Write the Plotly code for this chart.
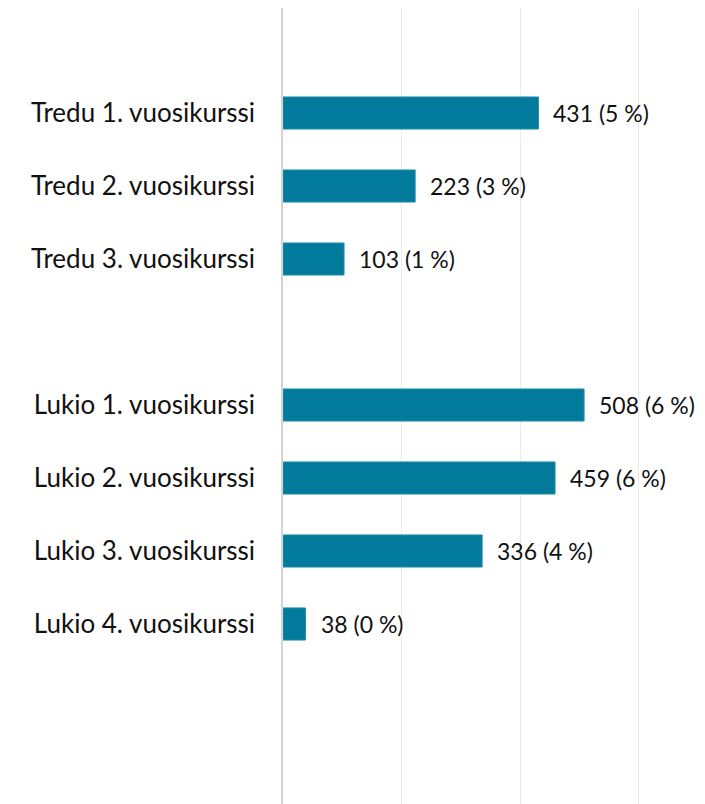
import plotly.graph_objects as go

categories = ["Tredu 1. vuosikurssi", "Tredu 2. vuosikurssi", "Tredu 3. vuosikurssi", " ",
              "Lukio 1. vuosikurssi", "Lukio 2. vuosikurssi", "Lukio 3. vuosikurssi", "Lukio 4. vuosikurssi"]
values = [431, 223, 103, None, 508, 459, 336, 38]
percents = [5, 3, 1, None, 6, 6, 4, 0]
x_ticks = [0, 200, 400, 600]

FONT = "Lato"
BAR = "#017a9b"

fig = go.Figure()
fig.add_trace(go.Bar(
    y=categories, x=values, orientation="h",
    marker=dict(color=BAR, line=dict(color="#2a8fab", width=1)),
    width=0.44, hoverinfo="skip",
))

for c, v, p in zip(categories, values, percents):
    if v is None:
        continue
    fig.add_annotation(x=v, y=c, text=f"{v} ({p} %)", showarrow=False,
                       xanchor="left", yanchor="middle", xshift=13,
                       font=dict(family=FONT, size=23, color="#111111"))

fig.update_layout(
    width=697, height=796,
    margin=dict(l=275, r=0, t=0, b=0),
    paper_bgcolor="white", plot_bgcolor="white",
    showlegend=False,
    font=dict(family=FONT, size=26, color="#111111"),
    xaxis=dict(range=[0, 712], tickvals=x_ticks, showticklabels=False,
               showgrid=True, gridcolor="#ebebeb", gridwidth=1,
               zeroline=False, showline=False, fixedrange=True),
    yaxis=dict(type="category", categoryorder="array", categoryarray=categories,
               range=[9.4658, -1.4384], showgrid=False, zeroline=False,
               showline=True, linecolor="#d4d4d4", linewidth=1.5,
               ticks="", ticklabelstandoff=21,
               tickfont=dict(family=FONT, size=26, color="#111111")),
)

fig.write_html("out.html")
